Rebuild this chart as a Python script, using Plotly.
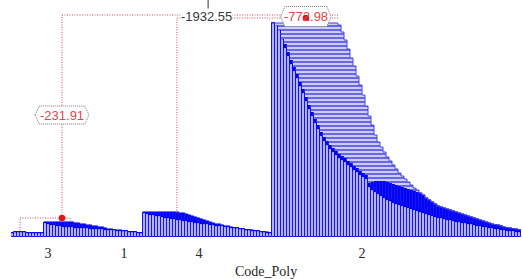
import plotly.graph_objects as go

# ---------------- data (heights) ----------------
# segment 1: small flat cluster on the far left
seg1 = [4, 5, 5, 5, 5, 4.5, 4.5, 4, 4, 4, 4]

# segment 2
seg2_upper = [15, 15, 15, 15, 15, 15, 15, 15, 15,
              14.7, 14.4, 14, 13.5, 13, 12.5, 12, 11.4, 10.8, 10.2, 9.6, 9, 8.5, 8,
              7.5, 7, 6.6, 6.2, 5.8, 5.4, 5, 4.7, 4.4, 4.1]
seg2_lower = [14, 13, 12.5, 12, 11.5, 11, 10.5, 10.2, 10, 9.7, 9.5, 9.3, 9, 8.8, 8.6,
              8.4, 8.2, 8, 7.8, 7.6, 7.4, 7.2, 7, 6.8, 6.5, 6.2, 5.9, 5.6, 5.3, 5,
              4.7, 4.4, 4.1]

# segment 3
seg3_upper = [25, 25, 25, 25, 25, 25, 25, 25, 25, 25, 25, 25,
              24.5, 23.8, 23, 22, 21, 20, 19, 18, 17, 16, 15, 14.2, 13.4, 12.6, 12,
              11.3, 10.7, 10.1, 9.5, 9, 8.5, 8, 7.5, 7, 6.6, 6.2, 5.8, 5.4, 5, 4.6, 4.2]
seg3_lower = [24, 23, 22.4, 21.8, 21.2, 20.6, 20, 19.5, 19, 18.5, 18, 17.5, 17, 16.5,
              16, 15.5, 15, 14.5, 14, 13.5, 13, 12.6, 12.2, 11.8, 11.4, 11, 10.8, 10.3,
              9.8, 9.4, 9, 8.6, 8.2, 7.8, 7.3, 6.9, 6.5, 6.1, 5.7, 5.3, 4.9, 4.5, 4.1]

# segment 4 (large cluster)
seg4_upper = [214] * 22 + [
    212, 205, 197, 188, 179, 171, 161, 152, 142, 131, 121, 112, 102, 95, 90,
    85, 80, 76, 72, 68, 64, 61, 58, 55, 52, 49, 47, 44, 42, 39, 37, 35, 33, 31,
    30, 29, 28, 27, 26, 25, 24, 23, 22, 21, 20, 19, 18, 17, 16, 15, 14, 13, 12.5,
    12, 11, 10, 9.5, 9, 8.5, 8, 7.5]
seg4_lower = [214, 212, 207, 198, 189, 181, 173, 166, 159, 151, 144, 136, 128, 121,
              114, 108, 101, 96, 92, 88, 85, 82, 79, 77, 75, 72, 70, 67, 65, 62, 60,
              58, 50, 47, 45, 43, 41, 39, 37, 36, 34, 33, 32, 31, 30, 29, 28, 27, 26,
              25, 24, 23, 22, 21, 20, 19.5, 19, 18, 17.5, 17, 16, 15.5, 15, 14.5, 14,
              13.5, 13, 12, 11.5, 11, 10.5, 10, 9.5, 9, 8.5, 8, 7.5, 7, 6.5, 6.2, 5.8,
              5.4, 5]
seg4_solid = [214, 212, 207, 198,
              193, 185, 177, 170, 163, 155, 148, 140, 132, 125, 118, 112, 105, 100,
              96, 92, 89, 86, 83, 81, 79, 76, 74, 71, 69, 66, 64, 62,
              54, 55, 56, 56, 56, 56, 55, 54, 53, 52, 51, 50, 49, 48, 47, 46, 45, 44, 42,
              39, 37, 35, 33, 31, 30, 29, 28, 27, 26, 25, 24, 23, 22, 21, 20, 19, 18,
              17, 16, 15, 14, 13, 12.5, 12, 11, 10, 9.5, 9, 8.5, 8, 7.5]

group_labels = ["3", "1", "4", "2"]
group_label_pos = [11.8, 37.2, 62.2, 116.5]

# dendrogram joins (x in bar-index units, y in height units)
dendro_x = [2.5, 2.5, 19.2, 19.2, None, 16.5, 16.5, None, 16.5, 109, None,
            54.8, 54.8, 109]
dendro_y = [4, 19, 19, 15, None, 19, 222, None, 222, 222, None,
            24, 219, 219]
dot_x = [16.5, 97.8]
dot_y = [19, 219]
join_labels = ["-231.91", "-772.98", "-1932.55"]
join_label_x = [16.5, 97.8, 64.8]
join_label_y = [122, 220.5, 221]

# ---------------- build ----------------
lower_all = seg1 + seg2_lower + seg3_lower + seg4_lower
solid_all = seg1 + seg2_upper + seg3_upper + seg4_solid
upper_all = seg1 + seg2_upper + seg3_upper + seg4_upper
N = len(lower_all)
idx = list(range(N))
start4 = N - len(seg4_upper)

BLUE = "rgb(20,20,235)"
LAV = "rgb(178,178,240)"
RED = "rgb(225,70,80)"

fig = go.Figure()
fig.add_trace(go.Bar(x=idx, y=lower_all, width=1,
                     marker=dict(color=LAV, line=dict(color=BLUE, width=1)),
                     hoverinfo="skip"))
fig.add_trace(go.Bar(x=idx, y=[s - l for s, l in zip(solid_all, lower_all)],
                     base=lower_all, width=1,
                     marker=dict(color="rgb(5,5,245)", line=dict(color="rgb(5,5,245)", width=0.5)),
                     hoverinfo="skip"))
fig.add_trace(go.Bar(x=idx, y=[u - s for u, s in zip(upper_all, solid_all)],
                     base=solid_all, width=1,
                     marker=dict(color="rgb(200,200,242)", line=dict(width=0),
                                 pattern=dict(shape="-", fgcolor="rgb(60,60,225)",
                                              bgcolor="rgb(205,205,244)", size=4,
                                              solidity=0.35, fillmode="replace")),
                     hoverinfo="skip"))

# staircase edge of the striped block
edge_x = [i - 0.5 for i in range(start4, N)] + [N - 0.5]
edge_y = seg4_upper + [seg4_upper[-1]]
fig.add_trace(go.Scatter(x=edge_x, y=edge_y, mode="lines", line_shape="hv",
                         line=dict(color="rgb(70,70,225)", width=1), hoverinfo="skip"))

fig.add_trace(go.Scatter(x=dendro_x, y=dendro_y, mode="lines",
                         line=dict(color=RED, width=1, dash="1px,1.5px"),
                         hoverinfo="skip"))

# label boxes (dotted hexagons)
def hexpath(cx, cy, hw, hh, p):
    # hw, p in x-index units; hh in y units
    pts = [(cx - hw, cy), (cx - hw + p, cy + hh), (cx + hw - p, cy + hh),
           (cx + hw, cy), (cx + hw - p, cy - hh), (cx - hw + p, cy - hh)]
    return "M " + " L ".join(f"{x},{y}" for x, y in pts) + " Z"

shapes = [
    dict(type="path", path=hexpath(join_label_x[0], join_label_y[0], 9.0, 9, 1.4),
         xref="x", yref="y", line=dict(color="rgb(120,120,120)", width=1, dash="1px,1px"),
         fillcolor="white", layer="above"),
    dict(type="path", path=hexpath(join_label_x[1], join_label_y[1], 8.4, 10, 1.4),
         xref="x", yref="y", line=dict(color="rgb(120,120,120)", width=1, dash="1px,1px"),
         fillcolor="white", layer="above"),
    dict(type="line", x0=65.2, x1=65.2, y0=237, y1=225, xref="x", yref="y",
         line=dict(color="rgb(50,50,50)", width=1), layer="above"),
]
for x, y in zip(dot_x, dot_y):
    shapes.append(dict(type="circle", xref="x", yref="y", x0=x - 1.1, x1=x + 1.1,
                       y0=y - 3.2, y1=y + 3.2, fillcolor="rgb(230,20,20)",
                       line=dict(width=0), layer="above"))

annotations = []
for i, (t, x, y) in enumerate(zip(join_labels, join_label_x, join_label_y)):
    annotations.append(dict(
        x=x, y=y, xref="x", yref="y", text=t, showarrow=False,
        font=dict(family="Liberation Sans, Arial", size=13,
                  color=RED if i < 2 else "rgb(55,55,55)"),
        bgcolor=None if i < 2 else "white", borderpad=0,
        xanchor="center", yanchor="middle"))
annotations.append(dict(x=0.5, y=-0.145, xref="paper", yref="paper", text="Code_Poly",
                        showarrow=False, xanchor="center", yanchor="middle",
                        font=dict(family="Liberation Serif, Times New Roman", size=14,
                                  color="rgb(40,40,40)")))

fig.update_layout(
    width=522, height=279,
    margin=dict(l=11, r=1, t=0, b=42),
    barmode="overlay", bargap=0,
    plot_bgcolor="white", paper_bgcolor="white",
    showlegend=False,
    shapes=shapes, annotations=annotations,
    xaxis=dict(range=[-0.5, N - 0.5], showgrid=False, zeroline=False, showline=False,
               ticks="", tickvals=group_label_pos, ticktext=group_labels,
               ticklabelstandoff=6,
               tickfont=dict(family="Liberation Serif, Times New Roman", size=14,
                             color="rgb(40,40,40)"),
               fixedrange=True),
    yaxis=dict(range=[0, 237], visible=False, fixedrange=True),
)

fig.write_html("out.html", config=dict(displayModeBar=False),
               post_script="document.body.style.margin='0px';"
                           "document.body.style.overflow='hidden';")
